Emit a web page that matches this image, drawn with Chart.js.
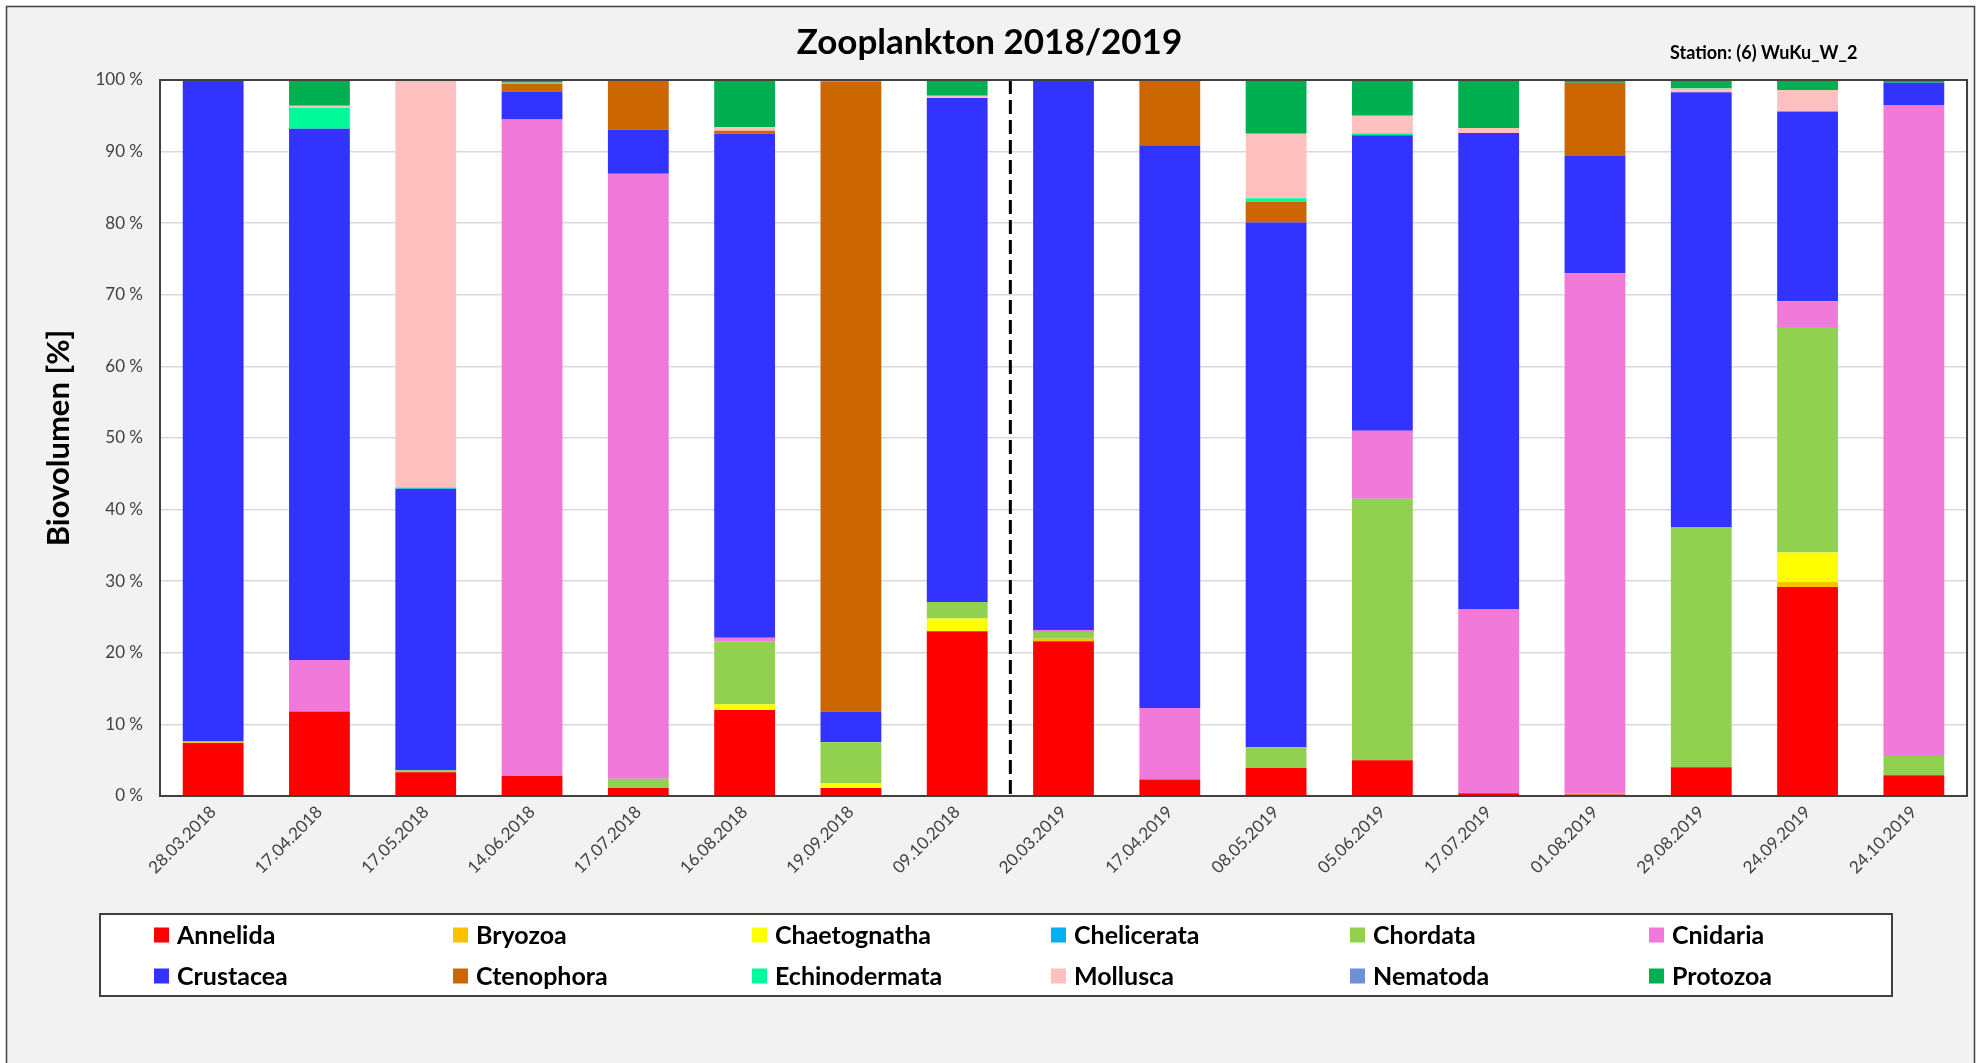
<!DOCTYPE html>
<html>
<head>
<meta charset="utf-8">
<script src="https://cdn.jsdelivr.net/npm/chart.js@4.4.1/dist/chart.umd.min.js"></script>
<style>
  html, body { margin: 0; padding: 0; background: #ffffff; }
  canvas { display: block; }
</style>
</head>
<body>
<canvas id="c" width="1979" height="1063"></canvas>
<script>
const categories = ['28.03.2018','17.04.2018','17.05.2018','14.06.2018','17.07.2018','16.08.2018','19.09.2018','09.10.2018',
                    '20.03.2019','17.04.2019','08.05.2019','05.06.2019','17.07.2019','01.08.2019','29.08.2019','24.09.2019','24.10.2019'];

const annelida      = [7.4, 11.8, 3.3, 2.8, 1.1, 12.0, 1.1, 23.0, 21.6, 2.3, 3.9, 5.0, 0.4, 0.2, 4.0, 29.2, 2.9];
const bryozoa       = [0.2, 0, 0, 0, 0, 0, 0, 0, 0.35, 0, 0, 0, 0, 0, 0, 0.7, 0];
const chaetognatha  = [0, 0, 0, 0, 0, 0.8, 0.7, 1.8, 0, 0, 0, 0, 0, 0, 0, 4.1, 0];
const chelicerata   = [0, 0, 0, 0, 0, 0, 0, 0, 0, 0, 0, 0, 0, 0, 0, 0, 0];
const chordata      = [0, 0, 0.3, 0, 1.3, 8.8, 5.7, 2.3, 0.95, 0, 2.9, 36.5, 0, 0.2, 33.5, 31.5, 2.7];
const cnidaria      = [0, 7.2, 0, 91.7, 84.5, 0.5, 0, 0, 0.3, 10.0, 0, 9.5, 25.7, 72.6, 0, 3.6, 90.9];
const crustacea     = [92.3, 74.2, 39.3, 3.9, 6.2, 70.4, 4.3, 70.4, 76.7, 78.6, 73.3, 41.3, 66.5, 16.4, 60.8, 26.5, 3.1];
const ctenophora    = [0, 0, 0, 1.1, 6.8, 0.4, 88.0, 0, 0, 9.1, 2.9, 0, 0, 10.2, 0, 0, 0];
const echinodermata = [0, 2.9, 0.2, 0, 0, 0, 0, 0, 0, 0, 0.5, 0.25, 0, 0, 0, 0, 0];
const mollusca      = [0, 0.3, 56.9, 0.1, 0, 0.5, 0, 0.3, 0, 0, 9.0, 2.45, 0.7, 0, 0.5, 3.0, 0];
const nematoda      = [0, 0, 0, 0, 0, 0, 0, 0, 0, 0, 0, 0, 0, 0, 0, 0, 0];
const protozoa      = [0.1, 3.6, 0, 0.4, 0.1, 6.6, 0.2, 2.2, 0.1, 0, 7.5, 5.0, 6.7, 0.4, 1.2, 1.4, 0.4];

const yTickValues = [0, 10, 20, 30, 40, 50, 60, 70, 80, 90, 100];

const seriesNames  = ['Annelida','Bryozoa','Chaetognatha','Chelicerata','Chordata','Cnidaria',
                      'Crustacea','Ctenophora','Echinodermata','Mollusca','Nematoda','Protozoa'];
const seriesValues = [annelida, bryozoa, chaetognatha, chelicerata, chordata, cnidaria,
                      crustacea, ctenophora, echinodermata, mollusca, nematoda, protozoa];
const seriesColors = ['#FF0000','#FFC000','#FFFF00','#00B0F0','#92D050','#F079DA',
                      '#3333FF','#CC6600','#00FA9A','#FFC0C0','#6E91D6','#00B050'];

const FONT = 'Lato';

const datasets = seriesNames.map((n, i) => ({
  label: n,
  data: seriesValues[i],
  backgroundColor: seriesColors[i],
  borderWidth: 0,
  barPercentage: 0.572,
  categoryPercentage: 1.0
}));

const bgPlugin = {
  id: 'bg',
  beforeDraw(chart) {
    const ctx = chart.ctx, a = chart.chartArea;
    ctx.save();
    ctx.fillStyle = '#ffffff';
    ctx.fillRect(0, 0, chart.width, chart.height);
    ctx.fillStyle = '#f2f2f2';
    ctx.fillRect(6, 6, 1969, chart.height);
    ctx.strokeStyle = '#404040';
    ctx.lineWidth = 1.5;
    ctx.strokeRect(6.5, 6.5, 1968, chart.height + 20);
    ctx.fillStyle = '#ffffff';
    ctx.fillRect(a.left, a.top, a.right - a.left, a.bottom - a.top);
    ctx.restore();
  }
};

const overlayPlugin = {
  id: 'overlay',
  afterDatasetsDraw(chart) {
    const ctx = chart.ctx, a = chart.chartArea, xs = chart.scales.x;
    const xm = (xs.getPixelForValue(7) + xs.getPixelForValue(8)) / 2;
    ctx.save();
    ctx.strokeStyle = '#000000';
    ctx.lineWidth = 3;
    ctx.setLineDash([14, 6]);
    ctx.beginPath();
    ctx.moveTo(xm, a.top);
    ctx.lineTo(xm, a.bottom);
    ctx.stroke();
    ctx.restore();
  },
  afterDraw(chart) {
    const ctx = chart.ctx, a = chart.chartArea;
    ctx.save();
    // plot border
    ctx.strokeStyle = '#404040';
    ctx.lineWidth = 2;
    ctx.strokeRect(a.left, a.top, a.right - a.left, a.bottom - a.top);
    // title
    ctx.fillStyle = '#000000';
    ctx.textAlign = 'center';
    ctx.textBaseline = 'alphabetic';
    ctx.font = 'bold 35px ' + FONT;
    ctx.fillText('Zooplankton 2018/2019', chart.width / 2, 54);
    // station
    ctx.textAlign = 'left';
    ctx.font = 'bold 18px ' + FONT;
    ctx.fillText('Station: (6) WuKu_W_2', 1670, 59);
    // legend
    ctx.fillStyle = '#ffffff';
    ctx.fillRect(100, 914, 1792, 82);
    ctx.strokeStyle = '#404040';
    ctx.lineWidth = 2;
    ctx.strokeRect(100, 914, 1792, 82);
    ctx.font = 'bold 25px ' + FONT;
    ctx.textBaseline = 'middle';
    chart.data.datasets.forEach((ds, i) => {
      const col = i % 6, row = Math.floor(i / 6);
      const x = 154 + col * 299;
      const y = row === 0 ? 935 : 976;
      ctx.fillStyle = ds.backgroundColor;
      ctx.fillRect(x, y - 7.5, 15, 15);
      ctx.fillStyle = '#000000';
      ctx.fillText(ds.label, x + 23, y + 1);
    });
    ctx.restore();
  }
};

new Chart(document.getElementById('c'), {
  type: 'bar',
  data: { labels: categories, datasets: datasets },
  options: {
    responsive: false,
    animation: false,
    devicePixelRatio: 1,
    layout: { padding: { top: 80, right: 12, left: 0, bottom: 0 } },
    plugins: {
      legend: { display: false },
      title: { display: false },
      tooltip: { enabled: false }
    },
    scales: {
      x: {
        stacked: true,
        grid: { display: false, drawTicks: false },
        border: { color: '#404040', width: 2 },
        ticks: {
          font: { family: FONT, size: 17 },
          color: '#404040',
          minRotation: 45,
          maxRotation: 45,
          autoSkip: false,
          padding: 6
        },
        afterFit(s) { s.height = 267; }
      },
      y: {
        stacked: true,
        min: 0,
        max: 100,
        afterBuildTicks(s) { s.ticks = yTickValues.map(v => ({ value: v })); },
        ticks: {
          font: { family: FONT, size: 17 },
          color: '#404040',
          padding: 17,
          callback: v => v + ' %'
        },
        grid: { color: '#d9d9d9', lineWidth: 1.5, drawTicks: false },
        border: { color: '#404040', width: 2 },
        title: {
          display: true,
          text: 'Biovolumen [%]',
          font: { family: FONT, size: 31, weight: 'bold' },
          color: '#000000',
          padding: { top: 40, bottom: 0 }
        },
        afterFit(s) { s.width = 160; }
      }
    }
  },
  plugins: [bgPlugin, overlayPlugin]
});
</script>
</body>
</html>
